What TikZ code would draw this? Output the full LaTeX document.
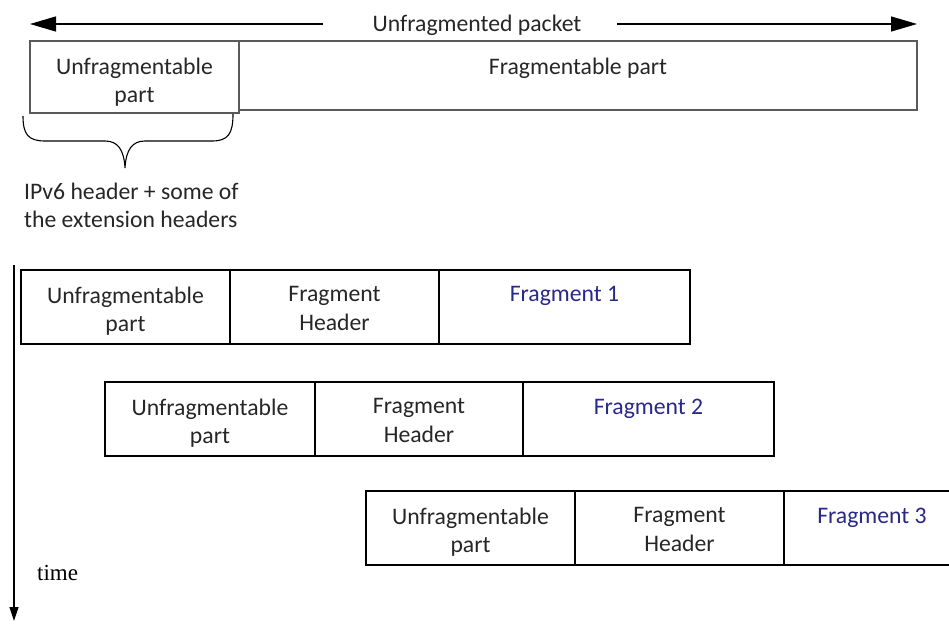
\documentclass[tikz,border=0pt]{standalone}
\usepackage{fontspec}
\setmainfont{Carlito}
\newfontfamily\timefont{Liberation Serif}
\usetikzlibrary{arrows.meta}
\definecolor{txt}{RGB}{38,38,38}
\definecolor{frag}{RGB}{40,40,135}
\definecolor{thin}{RGB}{90,90,90}
\begin{document}
\begin{tikzpicture}[x=1pt,y=-1pt,
  cell/.style={draw=black,line width=2pt},
  outline/.style={draw=thin,line width=1.4pt},
  lbl/.style={anchor=north,inner sep=0pt,align=center,text=txt,font=\fontsize{23.7}{28.5}\selectfont},
  fraglbl/.style={lbl,text=frag}]
\useasboundingbox (0,0) rectangle (949,624);
\clip (0,0) rectangle (949,624);

% whole packet with its length arrow
\node[lbl,anchor=center] (pkt) at (477,25) {Unfragmented packet};
\coordinate (pl) at (30,24);
\coordinate (pr) at (917,24);
\draw[thin,line width=1.3pt,-{Triangle[length=26pt,width=15pt,color=black]}] (323,24) -- (pl);
\draw[thin,line width=1.3pt,-{Triangle[length=26pt,width=15pt,color=black]}] (617,24) -- (pr);

\draw[outline] (239,41) rectangle (917,110);
\draw[outline] (30,41) rectangle (239,113);
\node[lbl] (u0) at (134.5,57.5) {Unfragmentable\\part};
\node[lbl] (f0) at (578,57.5) {Fragmentable part};

% brace under the unfragmentable part
\draw[thin,line width=1.1pt] (23,116) .. controls (23,134) and (28,141) .. (45,141)
  -- (105,141) .. controls (118,141) and (124,150) .. (125,168)
  .. controls (126,150) and (132,141) .. (145,141)
  -- (212,141) .. controls (228,141) and (233,134) .. (233,114);
\node[lbl,anchor=north west,align=left] (ext) at (24,182.5) {IPv6 header + some of\\the extension headers};

% time axis
\coordinate (t0) at (14,265);
\coordinate (t1) at (14,621);
\draw[black,line width=1.2pt,-{Triangle[length=14pt,width=9pt]}] (t0) -- (t1);
\node[anchor=base west,inner sep=0pt,text=black,font=\timefont\fontsize{23}{28}\selectfont] (time) at (37,580) {time};

% fragment 1
\draw[cell] (21,270) rectangle (690,344);
\draw[cell] (230,270) -- (230,344) (439,270) -- (439,344);
\node[lbl] (u1) at (125.5,286.5) {Unfragmentable\\part};
\node[lbl] (h1) at (334.5,286.5) {Fragment\\Header};
\node[fraglbl] (p1) at (564.5,286.5) {Fragment 1};

% fragment 2
\draw[cell] (105,382) rectangle (774,456);
\draw[cell] (315,382) -- (315,456) (523,382) -- (523,456);
\node[lbl] (u2) at (210,398.5) {Unfragmentable\\part};
\node[lbl] (h2) at (419,398.5) {Fragment\\Header};
\node[fraglbl] (p2) at (648.5,398.5) {Fragment 2};

% fragment 3
\draw[cell] (366,491) rectangle (962,565);
\draw[cell] (575,491) -- (575,565) (784,491) -- (784,565);
\node[lbl] (u3) at (470.5,507.5) {Unfragmentable\\part};
\node[lbl] (h3) at (679.5,507.5) {Fragment\\Header};
\node[fraglbl] (p3) at (872,507.5) {Fragment 3};
\end{tikzpicture}
\end{document}
